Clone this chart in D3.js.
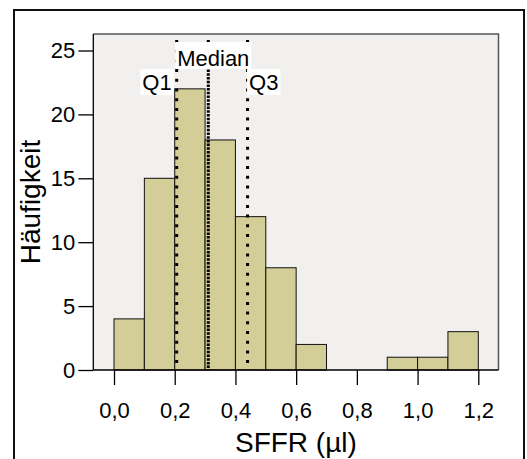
<!DOCTYPE html>
<html>
<head>
<meta charset="utf-8">
<script src="https://cdn.jsdelivr.net/npm/d3@7"></script>
<style>
  body { margin: 0; background: #fff; }
  svg { display: block; font-family: "Liberation Sans", Arial, sans-serif; }
</style>
</head>
<body>
<div id="chart"></div>
<script>
// histogram bins (lower edge) and counts
const binStarts = [0.0, 0.1, 0.2, 0.3, 0.4, 0.5, 0.6, 0.7, 0.8, 0.9, 1.0, 1.1];
const counts = [4, 15, 22, 18, 12, 8, 2, 0, 0, 1, 1, 3];
const binWidth = 0.1;
const xTicks = [0, 0.2, 0.4, 0.6, 0.8, 1.0, 1.2];
const yTicks = [0, 5, 10, 15, 20, 25];
const quartileNames = ['Q1', 'Median', 'Q3'];
const quartileValues = [0.2065, 0.3106, 0.440];

const width = 527, height = 459;
const plot = { left: 93.3, right: 498.5, top: 34, bottom: 370 };

const svg = d3.select('#chart').append('svg')
  .attr('width', width).attr('height', height);

// outer frame
svg.append('rect')
  .attr('x', 14).attr('y', 10).attr('width', 510).attr('height', 460)
  .attr('fill', 'none').attr('stroke', '#111').attr('stroke-width', 2);

const x = d3.scaleLinear().domain([0, 1.2]).range([114, 478.3]);
const y = d3.scaleLinear().domain([0, 25]).range([plot.bottom, 50.5]);

// plot background
svg.append('rect')
  .attr('x', plot.left).attr('y', plot.top)
  .attr('width', plot.right - plot.left).attr('height', plot.bottom - plot.top)
  .attr('fill', '#f1f0ee');
svg.append('path')
  .attr('d', `M${plot.left},${plot.top}H${plot.right}V${plot.bottom}`)
  .attr('fill', 'none').attr('stroke', '#555').attr('stroke-width', 1.5);

// bars
svg.selectAll('.bar')
  .data(binStarts.map((b, i) => ({ b, c: counts[i] })).filter(d => d.c > 0))
  .enter().append('rect')
  .attr('class', 'bar')
  .attr('x', d => x(d.b))
  .attr('y', d => y(d.c))
  .attr('width', d => x(d.b + binWidth) - x(d.b))
  .attr('height', d => y(0) - y(d.c))
  .attr('fill', '#d3ce97')
  .attr('stroke', '#111')
  .attr('stroke-width', 1);

// quartile lines
const qs = quartileNames.map((n, i) => ({ n, v: quartileValues[i] }));
svg.selectAll('.qline')
  .data(qs).enter().append('line')
  .attr('x1', d => x(d.v)).attr('x2', d => x(d.v))
  .attr('y1', 40).attr('y2', plot.bottom)
  .attr('stroke', '#000').attr('stroke-width', 3)
  .attr('stroke-dasharray', d => d.n === 'Median' ? '2.5,1.2' : '3,6.7');

// quartile labels with white boxes
const labelPos = {
  Q1: { anchor: 'end', dx: -5, base: 90, top: 69, h: 26 },
  Median: { anchor: 'middle', dx: 5, base: 66, top: 42, h: 27 },
  Q3: { anchor: 'start', dx: 1.5, base: 90, top: 69, h: 26 }
};
qs.forEach(d => {
  const p = labelPos[d.n];
  const g = svg.append('g');
  const t = g.append('text')
    .attr('x', x(d.v) + p.dx).attr('y', p.base)
    .attr('text-anchor', p.anchor)
    .attr('font-size', 22).attr('fill', '#000')
    .text(d.n);
  const bb = t.node().getBBox();
  g.insert('rect', 'text')
    .attr('x', bb.x - 2).attr('y', p.top)
    .attr('width', bb.width + 4).attr('height', p.h)
    .attr('fill', '#fff');
});

// axes
const fmt = d3.formatLocale({ decimal: ',', thousands: '.', grouping: [3], currency: ['', ''] }).format('.1f');

const yAxis = svg.append('g')
  .attr('transform', `translate(${plot.left},0)`)
  .call(d3.axisLeft(y).tickValues(yTicks).tickSize(15).tickPadding(3).tickSizeOuter(0));
const xAxis = svg.append('g')
  .attr('transform', `translate(0,${plot.bottom})`)
  .call(d3.axisBottom(x).tickValues(xTicks).tickFormat(fmt).tickSize(15).tickPadding(17).tickSizeOuter(0));

[yAxis, xAxis].forEach(a => {
  a.select('.domain').remove();
  a.selectAll('line').attr('stroke', '#000').attr('stroke-width', 1.3);
  a.selectAll('text').attr('font-size', 22).attr('fill', '#000')
    .attr('font-family', '"Liberation Sans", Arial, sans-serif');
});

svg.append('line')
  .attr('x1', plot.left).attr('x2', plot.left)
  .attr('y1', plot.top).attr('y2', plot.bottom)
  .attr('stroke', '#000').attr('stroke-width', 1.3);
svg.append('line')
  .attr('x1', plot.left).attr('x2', plot.right)
  .attr('y1', plot.bottom).attr('y2', plot.bottom)
  .attr('stroke', '#000').attr('stroke-width', 1.3);

// axis titles
svg.append('text')
  .attr('x', (plot.left + plot.right) / 2).attr('y', 452)
  .attr('text-anchor', 'middle').attr('font-size', 28)
  .text('SFFR (µl)');
svg.append('text')
  .attr('transform', `translate(40,${(plot.top + plot.bottom) / 2}) rotate(-90)`)
  .attr('text-anchor', 'middle').attr('font-size', 28)
  .text('Häufigkeit');
</script>
</body>
</html>
